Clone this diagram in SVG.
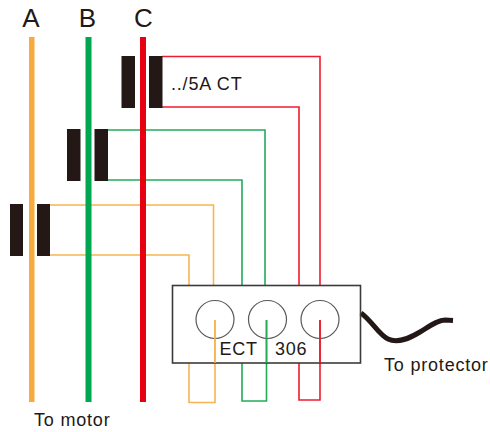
<svg xmlns="http://www.w3.org/2000/svg" width="490" height="432" viewBox="0 0 490 432">
<style>
text{font-family:"Liberation Sans",Arial,sans-serif;fill:#231815}
.big{font-size:26px}
.mid{font-size:18px;letter-spacing:.8px}
.w{fill:none;stroke-width:1.600}
.o{stroke:#f8b551}.g{stroke:#22ac5a}.r{stroke:#ee1c2e}
.core{fill:#231815}
.hole{fill:none;stroke:#595757;stroke-width:1.200}
</style>
<rect width="490" height="432" fill="#fff"/>
<g id="connectors">
<path class="w o" d="M50 205H213.500V285M50 255H189V285M189 363V402.500H215V320"/>
<path class="w g" d="M107 130H265V285M107 180H242V285M242 363V401H266.500V320"/>
<path class="w r" d="M162 56.500H320V285M162 107H299V285M299 363V400H320V320"/>
<path d="M361 313C372 321 379 335 388 339C398 344 410 338 420 332C430 326 438 320 445 320L453 320.500" fill="none" stroke="#231815" stroke-width="5"/>
</g>
<g id="bar-A"><text class="big" x="31" y="26.500" text-anchor="middle">A</text><rect x="29" y="37" width="5.500" height="365" fill="#f6ab3c"/></g>
<g id="bar-B"><text class="big" x="87.500" y="26.500" text-anchor="middle">B</text><rect x="85.500" y="37" width="6" height="365" fill="#00a650"/></g>
<g id="bar-C"><text class="big" x="143.500" y="26.500" text-anchor="middle">C</text><rect x="140" y="37" width="6" height="365" fill="#e60012"/></g>
<g id="ct-A"><rect class="core" x="10" y="204" width="13" height="52"/><rect class="core" x="37" y="204" width="13" height="52"/></g>
<g id="ct-B"><rect class="core" x="67" y="129" width="13.500" height="52"/><rect class="core" x="94.500" y="129" width="13.500" height="52"/></g>
<g id="ct-C"><rect class="core" x="121.500" y="56" width="13.500" height="52"/><rect class="core" x="149" y="56" width="13.500" height="52"/></g>
<g id="ct-label"><text class="mid" x="171" y="90">../5A CT</text></g>
<g id="ect-306">
<rect x="172.500" y="285.500" width="188" height="77.500" fill="none" stroke="#3e3a39" stroke-width="1.600"/>
<circle class="hole" cx="215" cy="319.500" r="19"/>
<circle class="hole" cx="267.500" cy="319.500" r="19"/>
<circle class="hole" cx="320" cy="319.500" r="19"/>
<path class="w o" d="M215 320V363"/><path class="w g" d="M266.500 320V363"/><path class="w r" d="M320 320V363"/>
<text class="mid" x="219.500" y="355">ECT</text>
<text class="mid" x="275" y="355">306</text>
</g>
<g id="labels">
<text class="mid" x="384" y="371">To protector</text>
<text class="mid" x="34" y="426">To motor</text>
</g>
</svg>
